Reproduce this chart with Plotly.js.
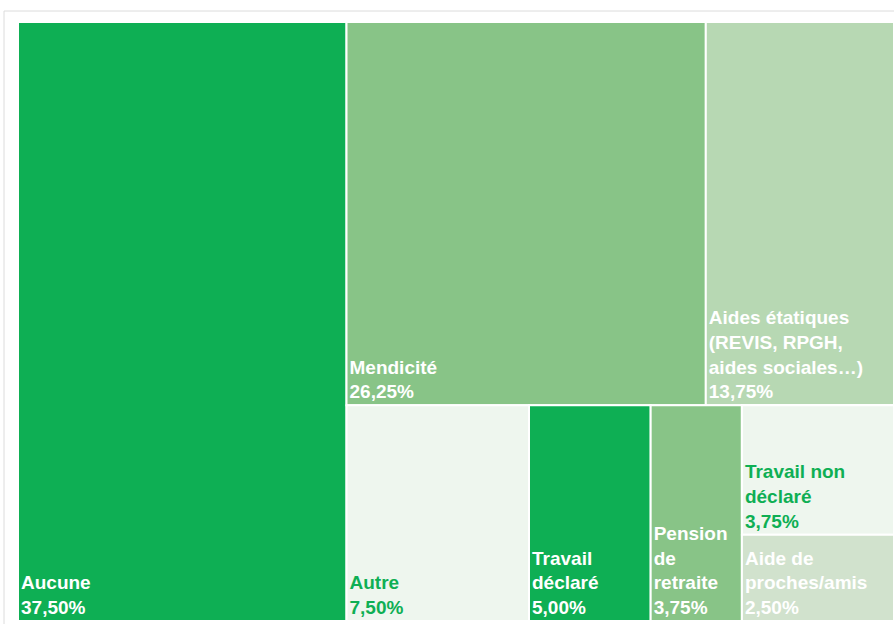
<!DOCTYPE html>
<html><head><meta charset="utf-8">
<script src="https://cdn.plot.ly/plotly-3.0.1.min.js"></script>
<style>html,body{margin:0;padding:0;background:#fff;overflow:hidden}</style>
</head><body><div id="chart" style="width:894px;height:624px"></div>
<script>
// Source de revenus (part des personnes, %)
const ids = ["aucune","mendicite","aides","autre","travail_declare","pension","groupe","travail_non_declare","aide_proches"];
const parents = ["","","","","","","","groupe","groupe"];
const labels = ["Aucune","Mendicité","Aides étatiques (REVIS, RPGH, aides sociales…)","Autre","Travail déclaré","Pension de retraite","","Travail non déclaré","Aide de proches/amis"];
const displayNames = ["Aucune","Mendicité","Aides étatiques<br>(REVIS, RPGH,<br>aides sociales…)","Autre","Travail<br>déclaré","Pension<br>de<br>retraite","","Travail non<br>déclaré","Aide de<br>proches/amis"];
const values = [37.5, 26.25, 13.75, 7.5, 5.0, 3.75, 6.25, 3.75, 2.5];
const tileColors = ["#0eaf54","#88c487","#b7d8b3","#eef6ee","#0eaf54","#88c487","#ffffff","#eef6ee","#d1e2cd"];
const textColors = ["#ffffff","#ffffff","#ffffff","#0eaf54","#ffffff","#ffffff","#ffffff","#0eaf54","#ffffff"];

const fmt = v => v.toFixed(2).replace('.', ',') + '%';
const texts = displayNames.map((n, i) => n === "" ? "" : n + "<br>" + fmt(values[i]));

const trace = {
  type: 'treemap',
  ids: ids,
  labels: labels,
  parents: parents,
  values: values,
  branchvalues: 'total',
  sort: false,
  text: texts,
  textinfo: 'text',
  textposition: 'bottom left',
  textfont: {family: 'Liberation Sans, Arial, sans-serif', size: 19, weight: 'bold', color: textColors},
  marker: {colors: tileColors, line: {color: '#ffffff', width: 2}, pad: {t: 0, l: 0, r: 0, b: 0}},
  tiling: {packing: 'squarify', squarifyratio: 1, pad: 0},
  pathbar: {visible: false},
  hoverinfo: 'label+value',
  domain: {x: [0, 1], y: [0, 1]}
};

const layout = {
  width: 894, height: 624,
  margin: {l: 18, r: 0, t: 22, b: 3},
  paper_bgcolor: '#ffffff',
  showlegend: false,
  shapes: [{type: 'rect', xref: 'paper', yref: 'paper', x0: -14/876, x1: 1.1, y0: -0.2, y1: 1 + 11/599,
            line: {color: '#dcdcdc', width: 1}, fillcolor: 'rgba(0,0,0,0)', layer: 'below'}]
};

Plotly.newPlot('chart', [trace], layout, {displayModeBar: false, staticPlot: true});
</script>
</body></html>
